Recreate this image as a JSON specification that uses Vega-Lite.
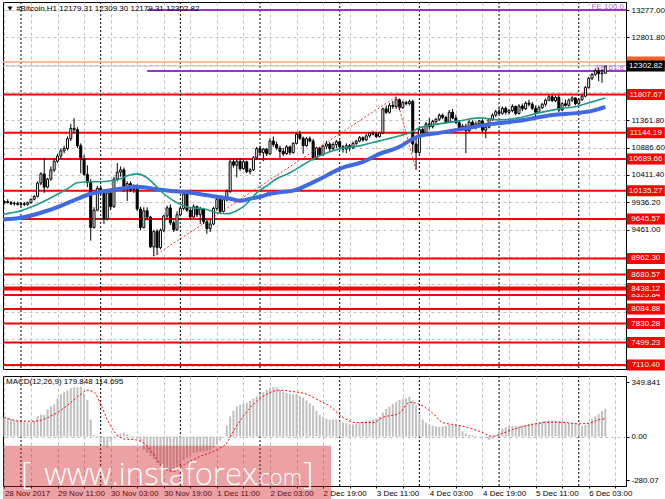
{
"$schema": "https://vega.github.io/schema/vega-lite/v6.json",
"padding": {"left": 2, "top": 1, "right": 0, "bottom": 0},
"spacing": 3,
"background": "white",
"datasets": {
"candles": [
{"t":"2017-11-28T19:00","o":9930,"h":9970,"l":9900,"c":9950,"m":123},
{"t":"2017-11-28T20:00","o":9950,"h":9990,"l":9920,"c":9930,"m":120},
{"t":"2017-11-28T21:00","o":9930,"h":9960,"l":9890,"c":9910,"m":112},
{"t":"2017-11-28T22:00","o":9910,"h":9950,"l":9880,"c":9920,"m":104},
{"t":"2017-11-28T23:00","o":9920,"h":9950,"l":9880,"c":9900,"m":101},
{"t":"2017-11-29T00:00","o":9900,"h":9940,"l":9860,"c":9910,"m":99},
{"t":"2017-11-29T01:00","o":9910,"h":9940,"l":9870,"c":9900,"m":95},
{"t":"2017-11-29T02:00","o":9900,"h":9950,"l":9880,"c":9930,"m":91},
{"t":"2017-11-29T03:00","o":9930,"h":10000,"l":9910,"c":9990,"m":94},
{"t":"2017-11-29T04:00","o":9990,"h":10060,"l":9970,"c":10040,"m":100},
{"t":"2017-11-29T05:00","o":10040,"h":10300,"l":10020,"c":10270,"m":130},
{"t":"2017-11-29T06:00","o":10270,"h":10460,"l":10230,"c":10430,"m":142},
{"t":"2017-11-29T07:00","o":10430,"h":10710,"l":10100,"c":10200,"m":140},
{"t":"2017-11-29T08:00","o":10200,"h":10360,"l":10180,"c":10340,"m":175},
{"t":"2017-11-29T09:00","o":10340,"h":10560,"l":10310,"c":10500,"m":195},
{"t":"2017-11-29T10:00","o":10500,"h":10700,"l":10460,"c":10650,"m":207},
{"t":"2017-11-29T11:00","o":10650,"h":10780,"l":10620,"c":10740,"m":245},
{"t":"2017-11-29T12:00","o":10740,"h":10870,"l":10700,"c":10830,"m":270},
{"t":"2017-11-29T13:00","o":10830,"h":10920,"l":10790,"c":10870,"m":285},
{"t":"2017-11-29T14:00","o":10870,"h":11080,"l":10840,"c":11040,"m":295},
{"t":"2017-11-29T15:00","o":11040,"h":11300,"l":11000,"c":11220,"m":310},
{"t":"2017-11-29T16:00","o":11220,"h":11400,"l":11150,"c":11200,"m":317},
{"t":"2017-11-29T17:00","o":11200,"h":11240,"l":10880,"c":10920,"m":317},
{"t":"2017-11-29T18:00","o":10920,"h":10960,"l":10440,"c":10700,"m":320},
{"t":"2017-11-29T19:00","o":10700,"h":10760,"l":10400,"c":10420,"m":275},
{"t":"2017-11-29T20:00","o":10420,"h":10580,"l":10200,"c":10280,"m":235},
{"t":"2017-11-29T21:00","o":10280,"h":10340,"l":9270,"c":9500,"m":110},
{"t":"2017-11-29T22:00","o":9500,"h":9850,"l":9480,"c":9800,"m":10},
{"t":"2017-11-29T23:00","o":9800,"h":10220,"l":9780,"c":10180,"m":-5},
{"t":"2017-11-30T00:00","o":10180,"h":10230,"l":10060,"c":10090,"m":-45},
{"t":"2017-11-30T01:00","o":10090,"h":10120,"l":9560,"c":9650,"m":-60},
{"t":"2017-11-30T02:00","o":9650,"h":10150,"l":9620,"c":10100,"m":-70},
{"t":"2017-11-30T03:00","o":10100,"h":10110,"l":9800,"c":9860,"m":-35},
{"t":"2017-11-30T04:00","o":9860,"h":10380,"l":9840,"c":10340,"m":-5},
{"t":"2017-11-30T05:00","o":10340,"h":10620,"l":10300,"c":10460,"m":12},
{"t":"2017-11-30T06:00","o":10460,"h":10560,"l":10380,"c":10500,"m":20},
{"t":"2017-11-30T07:00","o":10500,"h":10540,"l":10120,"c":10160,"m":26},
{"t":"2017-11-30T08:00","o":10160,"h":10300,"l":9960,"c":10260,"m":15},
{"t":"2017-11-30T09:00","o":10260,"h":10300,"l":10120,"c":10160,"m":5},
{"t":"2017-11-30T10:00","o":10160,"h":10250,"l":10100,"c":10220,"m":-3},
{"t":"2017-11-30T11:00","o":10220,"h":10250,"l":9780,"c":9820,"m":-12},
{"t":"2017-11-30T12:00","o":9820,"h":9860,"l":9450,"c":9500,"m":-30},
{"t":"2017-11-30T13:00","o":9500,"h":9850,"l":9480,"c":9790,"m":-85},
{"t":"2017-11-30T14:00","o":9790,"h":9850,"l":9620,"c":9680,"m":-105},
{"t":"2017-11-30T15:00","o":9680,"h":9700,"l":9140,"c":9160,"m":-125},
{"t":"2017-11-30T16:00","o":9160,"h":9460,"l":9000,"c":9430,"m":-145},
{"t":"2017-11-30T17:00","o":9430,"h":9470,"l":9020,"c":9150,"m":-170},
{"t":"2017-11-30T18:00","o":9150,"h":9480,"l":9120,"c":9450,"m":-185},
{"t":"2017-11-30T19:00","o":9450,"h":9720,"l":9420,"c":9700,"m":-200},
{"t":"2017-11-30T20:00","o":9700,"h":9880,"l":9650,"c":9840,"m":-215},
{"t":"2017-11-30T21:00","o":9840,"h":9900,"l":9540,"c":9580,"m":-222},
{"t":"2017-11-30T22:00","o":9580,"h":9620,"l":9420,"c":9460,"m":-215},
{"t":"2017-11-30T23:00","o":9460,"h":9780,"l":9440,"c":9720,"m":-195},
{"t":"2017-12-01T00:00","o":9720,"h":9860,"l":9690,"c":9830,"m":-175},
{"t":"2017-12-01T01:00","o":9830,"h":10140,"l":9800,"c":10080,"m":-150},
{"t":"2017-12-01T02:00","o":10080,"h":10100,"l":9770,"c":9800,"m":-135},
{"t":"2017-12-01T03:00","o":9800,"h":9850,"l":9640,"c":9680,"m":-120},
{"t":"2017-12-01T04:00","o":9680,"h":9900,"l":9660,"c":9860,"m":-105},
{"t":"2017-12-01T05:00","o":9860,"h":9880,"l":9680,"c":9720,"m":-100},
{"t":"2017-12-01T06:00","o":9720,"h":9860,"l":9560,"c":9820,"m":-97},
{"t":"2017-12-01T07:00","o":9820,"h":9840,"l":9560,"c":9600,"m":-95},
{"t":"2017-12-01T08:00","o":9600,"h":9640,"l":9390,"c":9480,"m":-92},
{"t":"2017-12-01T09:00","o":9480,"h":9640,"l":9420,"c":9560,"m":-88},
{"t":"2017-12-01T10:00","o":9560,"h":9860,"l":9540,"c":9830,"m":-70},
{"t":"2017-12-01T11:00","o":9830,"h":10020,"l":9790,"c":9990,"m":-50},
{"t":"2017-12-01T12:00","o":9990,"h":10030,"l":9750,"c":9780,"m":-25},
{"t":"2017-12-01T13:00","o":9780,"h":10010,"l":9760,"c":9980,"m":0},
{"t":"2017-12-01T14:00","o":9980,"h":10160,"l":9950,"c":10130,"m":70},
{"t":"2017-12-01T15:00","o":10130,"h":10680,"l":10100,"c":10640,"m":130},
{"t":"2017-12-01T16:00","o":10640,"h":10700,"l":10540,"c":10580,"m":165},
{"t":"2017-12-01T17:00","o":10580,"h":10700,"l":10370,"c":10650,"m":195},
{"t":"2017-12-01T18:00","o":10650,"h":10700,"l":10480,"c":10520,"m":205},
{"t":"2017-12-01T19:00","o":10520,"h":10680,"l":10500,"c":10640,"m":210},
{"t":"2017-12-01T20:00","o":10640,"h":10660,"l":10440,"c":10470,"m":218},
{"t":"2017-12-01T21:00","o":10470,"h":10530,"l":10420,"c":10500,"m":230},
{"t":"2017-12-01T22:00","o":10500,"h":10740,"l":10480,"c":10710,"m":245},
{"t":"2017-12-01T23:00","o":10710,"h":10900,"l":10680,"c":10870,"m":258},
{"t":"2017-12-02T00:00","o":10870,"h":10920,"l":10760,"c":10800,"m":270},
{"t":"2017-12-02T01:00","o":10800,"h":10880,"l":10650,"c":10860,"m":285},
{"t":"2017-12-02T02:00","o":10860,"h":10880,"l":10740,"c":10780,"m":300},
{"t":"2017-12-02T03:00","o":10780,"h":11050,"l":10760,"c":11000,"m":312},
{"t":"2017-12-02T04:00","o":11000,"h":11080,"l":10900,"c":10940,"m":317},
{"t":"2017-12-02T05:00","o":10940,"h":10990,"l":10850,"c":10880,"m":315},
{"t":"2017-12-02T06:00","o":10880,"h":10920,"l":10700,"c":10820,"m":300},
{"t":"2017-12-02T07:00","o":10820,"h":10880,"l":10740,"c":10780,"m":288},
{"t":"2017-12-02T08:00","o":10780,"h":10930,"l":10760,"c":10900,"m":280},
{"t":"2017-12-02T09:00","o":10900,"h":10920,"l":10760,"c":10800,"m":275},
{"t":"2017-12-02T10:00","o":10800,"h":10980,"l":10780,"c":10960,"m":272},
{"t":"2017-12-02T11:00","o":10960,"h":11150,"l":10940,"c":11120,"m":272},
{"t":"2017-12-02T12:00","o":11120,"h":11180,"l":11020,"c":11050,"m":260},
{"t":"2017-12-02T13:00","o":11050,"h":11080,"l":10780,"c":10920,"m":250},
{"t":"2017-12-02T14:00","o":10920,"h":11070,"l":10900,"c":11040,"m":232},
{"t":"2017-12-02T15:00","o":11040,"h":11080,"l":10980,"c":11000,"m":215},
{"t":"2017-12-02T16:00","o":11000,"h":11040,"l":10660,"c":10710,"m":198},
{"t":"2017-12-02T17:00","o":10710,"h":10900,"l":10680,"c":10880,"m":165},
{"t":"2017-12-02T18:00","o":10880,"h":10900,"l":10740,"c":10760,"m":140},
{"t":"2017-12-02T19:00","o":10760,"h":10940,"l":10740,"c":10910,"m":128},
{"t":"2017-12-02T20:00","o":10910,"h":11000,"l":10860,"c":10950,"m":115},
{"t":"2017-12-02T21:00","o":10950,"h":10980,"l":10820,"c":10870,"m":108},
{"t":"2017-12-02T22:00","o":10870,"h":10980,"l":10840,"c":10940,"m":110},
{"t":"2017-12-02T23:00","o":10940,"h":11020,"l":10880,"c":10990,"m":110},
{"t":"2017-12-03T00:00","o":10990,"h":11010,"l":10860,"c":10900,"m":99},
{"t":"2017-12-03T01:00","o":10900,"h":10930,"l":10800,"c":10860,"m":92},
{"t":"2017-12-03T02:00","o":10860,"h":10960,"l":10790,"c":10920,"m":85},
{"t":"2017-12-03T03:00","o":10920,"h":10950,"l":10820,"c":10880,"m":78},
{"t":"2017-12-03T04:00","o":10880,"h":10990,"l":10860,"c":10960,"m":78},
{"t":"2017-12-03T05:00","o":10960,"h":11020,"l":10930,"c":11000,"m":85},
{"t":"2017-12-03T06:00","o":11000,"h":11090,"l":10980,"c":11060,"m":90},
{"t":"2017-12-03T07:00","o":11060,"h":11080,"l":10990,"c":11020,"m":97},
{"t":"2017-12-03T08:00","o":11020,"h":11120,"l":11000,"c":11090,"m":103},
{"t":"2017-12-03T09:00","o":11090,"h":11160,"l":11060,"c":11140,"m":106},
{"t":"2017-12-03T10:00","o":11140,"h":11180,"l":11100,"c":11120,"m":110},
{"t":"2017-12-03T11:00","o":11120,"h":11160,"l":11050,"c":11080,"m":115},
{"t":"2017-12-03T12:00","o":11080,"h":11160,"l":11060,"c":11140,"m":128},
{"t":"2017-12-03T13:00","o":11140,"h":11580,"l":11120,"c":11560,"m":155},
{"t":"2017-12-03T14:00","o":11560,"h":11620,"l":11470,"c":11500,"m":178},
{"t":"2017-12-03T15:00","o":11500,"h":11660,"l":11480,"c":11620,"m":192},
{"t":"2017-12-03T16:00","o":11620,"h":11700,"l":11560,"c":11600,"m":210},
{"t":"2017-12-03T17:00","o":11600,"h":11770,"l":11560,"c":11720,"m":222},
{"t":"2017-12-03T18:00","o":11720,"h":11740,"l":11540,"c":11580,"m":236},
{"t":"2017-12-03T19:00","o":11580,"h":11700,"l":11560,"c":11670,"m":244},
{"t":"2017-12-03T20:00","o":11670,"h":11700,"l":11620,"c":11650,"m":247},
{"t":"2017-12-03T21:00","o":11650,"h":11720,"l":11620,"c":11690,"m":255},
{"t":"2017-12-03T22:00","o":11690,"h":11720,"l":10800,"c":10950,"m":232},
{"t":"2017-12-03T23:00","o":10950,"h":11060,"l":10500,"c":10800,"m":200},
{"t":"2017-12-04T00:00","o":10800,"h":11240,"l":10780,"c":11200,"m":142},
{"t":"2017-12-04T01:00","o":11200,"h":11260,"l":11100,"c":11140,"m":110},
{"t":"2017-12-04T02:00","o":11140,"h":11330,"l":11120,"c":11300,"m":90},
{"t":"2017-12-04T03:00","o":11300,"h":11400,"l":11200,"c":11250,"m":78},
{"t":"2017-12-04T04:00","o":11250,"h":11370,"l":11220,"c":11340,"m":70},
{"t":"2017-12-04T05:00","o":11340,"h":11400,"l":11290,"c":11380,"m":65},
{"t":"2017-12-04T06:00","o":11380,"h":11480,"l":11350,"c":11450,"m":62},
{"t":"2017-12-04T07:00","o":11450,"h":11480,"l":11380,"c":11410,"m":65},
{"t":"2017-12-04T08:00","o":11410,"h":11440,"l":11300,"c":11330,"m":70},
{"t":"2017-12-04T09:00","o":11330,"h":11540,"l":11310,"c":11500,"m":78},
{"t":"2017-12-04T10:00","o":11500,"h":11560,"l":11380,"c":11400,"m":78},
{"t":"2017-12-04T11:00","o":11400,"h":11460,"l":11300,"c":11320,"m":75},
{"t":"2017-12-04T12:00","o":11320,"h":11360,"l":11200,"c":11230,"m":67},
{"t":"2017-12-04T13:00","o":11230,"h":11300,"l":11180,"c":11260,"m":35},
{"t":"2017-12-04T14:00","o":11260,"h":11300,"l":10790,"c":11180,"m":22},
{"t":"2017-12-04T15:00","o":11180,"h":11360,"l":11160,"c":11330,"m":13},
{"t":"2017-12-04T16:00","o":11330,"h":11360,"l":11220,"c":11250,"m":10},
{"t":"2017-12-04T17:00","o":11250,"h":11340,"l":11200,"c":11300,"m":5},
{"t":"2017-12-04T18:00","o":11300,"h":11370,"l":11250,"c":11350,"m":2},
{"t":"2017-12-04T19:00","o":11350,"h":11380,"l":11150,"c":11190,"m":-4},
{"t":"2017-12-04T20:00","o":11190,"h":11280,"l":11050,"c":11240,"m":-10},
{"t":"2017-12-04T21:00","o":11240,"h":11400,"l":11220,"c":11380,"m":-19},
{"t":"2017-12-04T22:00","o":11380,"h":11480,"l":11350,"c":11450,"m":-12},
{"t":"2017-12-04T23:00","o":11450,"h":11540,"l":11420,"c":11510,"m":10},
{"t":"2017-12-05T00:00","o":11510,"h":11580,"l":11460,"c":11480,"m":35},
{"t":"2017-12-05T01:00","o":11480,"h":11600,"l":11460,"c":11570,"m":50},
{"t":"2017-12-05T02:00","o":11570,"h":11600,"l":11460,"c":11500,"m":60},
{"t":"2017-12-05T03:00","o":11500,"h":11560,"l":11460,"c":11530,"m":67},
{"t":"2017-12-05T04:00","o":11530,"h":11640,"l":11500,"c":11600,"m":67},
{"t":"2017-12-05T05:00","o":11600,"h":11620,"l":11450,"c":11480,"m":67},
{"t":"2017-12-05T06:00","o":11480,"h":11640,"l":11460,"c":11610,"m":67},
{"t":"2017-12-05T07:00","o":11610,"h":11650,"l":11520,"c":11560,"m":71},
{"t":"2017-12-05T08:00","o":11560,"h":11690,"l":11540,"c":11660,"m":76},
{"t":"2017-12-05T09:00","o":11660,"h":11720,"l":11600,"c":11640,"m":80},
{"t":"2017-12-05T10:00","o":11640,"h":11680,"l":11540,"c":11570,"m":84},
{"t":"2017-12-05T11:00","o":11570,"h":11620,"l":11380,"c":11500,"m":88},
{"t":"2017-12-05T12:00","o":11500,"h":11620,"l":11480,"c":11580,"m":92},
{"t":"2017-12-05T13:00","o":11580,"h":11660,"l":11560,"c":11640,"m":97},
{"t":"2017-12-05T14:00","o":11640,"h":11740,"l":11600,"c":11710,"m":100},
{"t":"2017-12-05T15:00","o":11710,"h":11800,"l":11690,"c":11770,"m":103},
{"t":"2017-12-05T16:00","o":11770,"h":11800,"l":11680,"c":11700,"m":103},
{"t":"2017-12-05T17:00","o":11700,"h":11790,"l":11680,"c":11760,"m":102},
{"t":"2017-12-05T18:00","o":11760,"h":11800,"l":11500,"c":11540,"m":99},
{"t":"2017-12-05T19:00","o":11540,"h":11680,"l":11520,"c":11650,"m":95},
{"t":"2017-12-05T20:00","o":11650,"h":11720,"l":11600,"c":11620,"m":92},
{"t":"2017-12-05T21:00","o":11620,"h":11740,"l":11600,"c":11710,"m":86},
{"t":"2017-12-05T22:00","o":11710,"h":11780,"l":11680,"c":11750,"m":82},
{"t":"2017-12-05T23:00","o":11750,"h":11760,"l":11620,"c":11650,"m":79},
{"t":"2017-12-06T00:00","o":11650,"h":11740,"l":11620,"c":11720,"m":78},
{"t":"2017-12-06T01:00","o":11720,"h":11800,"l":11700,"c":11780,"m":70},
{"t":"2017-12-06T02:00","o":11780,"h":11960,"l":11760,"c":11930,"m":75},
{"t":"2017-12-06T03:00","o":11930,"h":12110,"l":11910,"c":12090,"m":86},
{"t":"2017-12-06T04:00","o":12090,"h":12180,"l":12060,"c":12160,"m":110},
{"t":"2017-12-06T05:00","o":12160,"h":12260,"l":12130,"c":12220,"m":130},
{"t":"2017-12-06T06:00","o":12220,"h":12270,"l":12040,"c":12170,"m":145},
{"t":"2017-12-06T07:00","o":12170,"h":12250,"l":12010,"c":12179.31,"m":165},
{"t":"2017-12-06T08:00","o":12179.31,"h":12309.30,"l":12179.31,"c":12302.82,"m":179.848}
],
"teal": [
{"t":"2017-11-28T18:35","v":9730},{"t":"2017-11-29T00:00","v":9790},{"t":"2017-11-29T04:00","v":9876},
{"t":"2017-11-29T09:00","v":10015},{"t":"2017-11-29T14:00","v":10171},{"t":"2017-11-29T17:00","v":10275},
{"t":"2017-11-29T21:00","v":10293},{"t":"2017-11-30T00:00","v":10293},{"t":"2017-11-30T03:00","v":10310},
{"t":"2017-11-30T06:00","v":10345},{"t":"2017-11-30T08:00","v":10397},{"t":"2017-11-30T11:00","v":10431},
{"t":"2017-11-30T14:00","v":10362},{"t":"2017-11-30T16:00","v":10258},{"t":"2017-11-30T19:00","v":10085},
{"t":"2017-11-30T23:00","v":9928},{"t":"2017-12-01T03:00","v":9842},{"t":"2017-12-01T07:00","v":9824},
{"t":"2017-12-01T11:00","v":9755},{"t":"2017-12-01T14:00","v":9737},{"t":"2017-12-01T17:00","v":9790},
{"t":"2017-12-01T20:00","v":9911},{"t":"2017-12-01T23:00","v":10102},{"t":"2017-12-02T02:00","v":10223},
{"t":"2017-12-02T05:00","v":10345},{"t":"2017-12-02T09:00","v":10449},{"t":"2017-12-02T12:00","v":10553},
{"t":"2017-12-02T15:00","v":10657},{"t":"2017-12-02T18:00","v":10744},{"t":"2017-12-02T21:00","v":10813},
{"t":"2017-12-03T00:00","v":10865},{"t":"2017-12-03T06:00","v":10917},{"t":"2017-12-03T12:00","v":11004},
{"t":"2017-12-03T18:00","v":11091},{"t":"2017-12-03T21:00","v":11143},{"t":"2017-12-04T00:00","v":11230},
{"t":"2017-12-04T06:00","v":11299},{"t":"2017-12-04T12:00","v":11351},{"t":"2017-12-04T18:00","v":11403},
{"t":"2017-12-05T00:00","v":11368},{"t":"2017-12-05T06:00","v":11403},{"t":"2017-12-05T12:00","v":11490},
{"t":"2017-12-05T18:00","v":11559},{"t":"2017-12-06T00:00","v":11611},{"t":"2017-12-06T04:00","v":11681},
{"t":"2017-12-06T08:00","v":11750}
],
"blue": [
{"t":"2017-11-28T18:35","v":9640},{"t":"2017-11-29T00:00","v":9668},{"t":"2017-11-29T06:00","v":9755},
{"t":"2017-11-29T12:00","v":9876},{"t":"2017-11-29T17:00","v":9998},{"t":"2017-11-29T21:00","v":10085},
{"t":"2017-11-30T02:00","v":10137},{"t":"2017-11-30T06:00","v":10171},{"t":"2017-11-30T10:00","v":10206},
{"t":"2017-11-30T14:00","v":10189},{"t":"2017-11-30T18:00","v":10154},{"t":"2017-12-01T03:00","v":10102},
{"t":"2017-12-01T09:00","v":10050},{"t":"2017-12-01T15:00","v":9998},{"t":"2017-12-01T18:00","v":9963},
{"t":"2017-12-01T21:00","v":9998},{"t":"2017-12-02T00:00","v":10032},{"t":"2017-12-02T03:00","v":10085},
{"t":"2017-12-02T07:00","v":10119},{"t":"2017-12-02T10:00","v":10140},{"t":"2017-12-02T14:00","v":10230},
{"t":"2017-12-02T18:00","v":10340},{"t":"2017-12-02T21:00","v":10431},{"t":"2017-12-03T00:00","v":10518},
{"t":"2017-12-03T07:00","v":10640},{"t":"2017-12-03T12:00","v":10778},{"t":"2017-12-03T18:00","v":10900},
{"t":"2017-12-03T21:00","v":11004},{"t":"2017-12-04T00:00","v":11091},{"t":"2017-12-04T06:00","v":11143},
{"t":"2017-12-04T13:00","v":11212},{"t":"2017-12-04T22:00","v":11299},{"t":"2017-12-05T06:00","v":11351},
{"t":"2017-12-05T16:00","v":11455},{"t":"2017-12-06T00:00","v":11490},{"t":"2017-12-06T04:00","v":11525},
{"t":"2017-12-06T08:00","v":11594}
],
"signal": [
{"t":"2017-11-28T19:00","v":123},{"t":"2017-11-29T00:00","v":99},{"t":"2017-11-29T04:00","v":99},
{"t":"2017-11-29T09:00","v":131},{"t":"2017-11-29T14:00","v":201},{"t":"2017-11-29T18:00","v":272},
{"t":"2017-11-29T20:00","v":298},{"t":"2017-11-29T22:00","v":285},{"t":"2017-11-30T00:00","v":207},
{"t":"2017-11-30T02:00","v":110},{"t":"2017-11-30T04:00","v":35},{"t":"2017-11-30T07:00","v":-15},
{"t":"2017-11-30T10:00","v":-19},{"t":"2017-11-30T13:00","v":-41},{"t":"2017-11-30T16:00","v":-117},
{"t":"2017-11-30T19:00","v":-203},{"t":"2017-11-30T22:00","v":-224},{"t":"2017-12-01T01:00","v":-181},
{"t":"2017-12-01T06:00","v":-127},{"t":"2017-12-01T11:00","v":-84},{"t":"2017-12-01T14:00","v":-41},
{"t":"2017-12-01T16:00","v":35},{"t":"2017-12-01T19:00","v":131},{"t":"2017-12-01T22:00","v":207},
{"t":"2017-12-02T02:00","v":272},{"t":"2017-12-02T06:00","v":298},{"t":"2017-12-02T10:00","v":289},
{"t":"2017-12-02T14:00","v":272},{"t":"2017-12-02T18:00","v":229},{"t":"2017-12-02T21:00","v":196},
{"t":"2017-12-03T01:00","v":123},{"t":"2017-12-03T05:00","v":90},{"t":"2017-12-03T10:00","v":90},
{"t":"2017-12-03T13:00","v":123},{"t":"2017-12-03T18:00","v":151},{"t":"2017-12-03T21:00","v":220},
{"t":"2017-12-04T00:00","v":207},{"t":"2017-12-04T04:00","v":151},{"t":"2017-12-04T07:00","v":90},
{"t":"2017-12-04T10:00","v":78},{"t":"2017-12-04T13:00","v":67},{"t":"2017-12-04T18:00","v":35},
{"t":"2017-12-04T22:00","v":2},{"t":"2017-12-05T00:00","v":13},{"t":"2017-12-05T04:00","v":45},
{"t":"2017-12-05T10:00","v":78},{"t":"2017-12-05T16:00","v":93},{"t":"2017-12-05T20:00","v":90},
{"t":"2017-12-06T00:00","v":82},{"t":"2017-12-06T03:00","v":86},{"t":"2017-12-06T06:00","v":108},
{"t":"2017-12-06T08:00","v":114.695}
],
"days": [
{"t":"2017-11-29T00:00"},{"t":"2017-11-30T00:00"},{"t":"2017-12-01T00:00"},{"t":"2017-12-02T00:00"},
{"t":"2017-12-03T00:00"},{"t":"2017-12-04T00:00"},{"t":"2017-12-05T00:00"},{"t":"2017-12-06T00:00"}
],
"levels": [
{"p":11807.67},{"p":11144.19},{"p":10689.66},{"p":10135.27},{"p":9645.57},{"p":8962.30},{"p":8680.57},
{"p":8325.84},{"p":8438.12},{"p":8084.88},{"p":7830.28},{"p":7499.23},{"p":7110.40}
],
"fe": [
{"p":13277.0,"lab":"FE 100.0"},{"p":12217.0,"lab":"FE 61.8"}
],
"zigzag": [
{"t":"2017-11-30T16:00","v":9000},{"t":"2017-12-03T17:00","v":11770},{"t":"2017-12-03T23:00","v":10500}
],
"quote": [
{"p":12372.82,"kind":"ask"},{"p":12302.82,"kind":"bid"}
]
},
"vconcat": [
{
"width": 623,
"height": 367,
"title": {"text": "▼  #Bitcoin,H1  12179.31 12309.30 12179.31 12302.82", "offset": -11, "dx": 3},
"layer": [
{"data": {"name": "levels"},
 "mark": {"type": "rule", "color": "#ff0000", "clip": true},
 "encoding": {
   "y": {"field": "p", "type": "quantitative", "title": null,
     "scale": {"domain": [7041, 13416], "nice": false, "zero": false},
     "axis": {"orient": "right", "values": [13277, 12801.8, 12326.6, 11851.4, 11361.8, 10886.6, 10411.4, 9936.2, 9461, 8985.8, 8510.6, 8035.4, 7560.2, 7085],
       "tickCount": 40,
       "labelExpr": "indexof([12326.6, 11851.4, 8985.8, 8510.6, 7560.2], datum.value) >= 0 ? '' : format(datum.value, '.2f')",
       "labelOverlap": false, "labelFlush": false, "labelBound": false, "tickSize": 3, "labelPadding": 2,
       "grid": true, "gridColor": "#c0c0c0", "gridDash": [3, 3], "domain": true, "title": null}},
   "strokeWidth": {"condition": {"test": "datum.p == 8438.12", "value": 4}, "value": 2}}},
{"data": {"name": "days"},
 "mark": {"type": "rule", "color": "#000000", "strokeDash": [2, 2], "strokeWidth": 1, "clip": true},
 "encoding": {"x": {"field": "t", "type": "temporal", "title": null,
   "scale": {"domain": [{"year":2017,"month":11,"date":28,"hours":18,"minutes":35},{"year":2017,"month":12,"date":6,"hours":14,"minutes":14}], "nice": false, "padding": 0},
   "axis": {"values": [
     {"year":2017,"month":11,"date":28,"hours":19},{"year":2017,"month":11,"date":29,"hours":3},{"year":2017,"month":11,"date":29,"hours":11},{"year":2017,"month":11,"date":29,"hours":19},
     {"year":2017,"month":11,"date":30,"hours":3},{"year":2017,"month":11,"date":30,"hours":11},{"year":2017,"month":11,"date":30,"hours":19},
     {"year":2017,"month":12,"date":1,"hours":3},{"year":2017,"month":12,"date":1,"hours":11},{"year":2017,"month":12,"date":1,"hours":19},
     {"year":2017,"month":12,"date":2,"hours":3},{"year":2017,"month":12,"date":2,"hours":11},{"year":2017,"month":12,"date":2,"hours":19},
     {"year":2017,"month":12,"date":3,"hours":3},{"year":2017,"month":12,"date":3,"hours":11},{"year":2017,"month":12,"date":3,"hours":19},
     {"year":2017,"month":12,"date":4,"hours":3},{"year":2017,"month":12,"date":4,"hours":11},{"year":2017,"month":12,"date":4,"hours":19},
     {"year":2017,"month":12,"date":5,"hours":3},{"year":2017,"month":12,"date":5,"hours":11},{"year":2017,"month":12,"date":5,"hours":19},
     {"year":2017,"month":12,"date":6,"hours":3},{"year":2017,"month":12,"date":6,"hours":11}],
     "tickCount": 60, "labels": false, "ticks": false, "domain": false, "grid": true, "gridColor": "#c0c0c0", "gridDash": [3, 3], "title": null}}}},
{"data": {"name": "quote"},
 "mark": {"type": "rule", "clip": true},
 "encoding": {
   "y": {"field": "p", "type": "quantitative", "title": null, "scale": {"domain": [7041, 13416], "nice": false, "zero": false}},
   "color": {"condition": {"test": "datum.kind == 'ask'", "value": "#ffa07a"}, "value": "#c0c0c0"},
   "strokeWidth": {"condition": {"test": "datum.kind == 'ask'", "value": 1.5}, "value": 1}}},
{"data": {"name": "fe"},
 "mark": {"type": "rule", "color": "#9932cc", "strokeWidth": 2, "clip": true},
 "encoding": {
   "x": {"datum": {"year":2017,"month":11,"date":30,"hours":14}, "type": "temporal", "scale": {"domain": [{"year":2017,"month":11,"date":28,"hours":18,"minutes":35},{"year":2017,"month":12,"date":6,"hours":14,"minutes":14}], "nice": false, "padding": 0}},
   "x2": {"datum": {"year":2017,"month":12,"date":6,"hours":14,"minutes":14}},
   "y": {"field": "p", "type": "quantitative", "title": null, "scale": {"domain": [7041, 13416], "nice": false, "zero": false}}}},
{"data": {"name": "candles"},
 "mark": {"type": "rule", "color": "#000000", "strokeWidth": 1},
 "encoding": {
   "x": {"field": "t", "type": "temporal", "title": null, "scale": {"domain": [{"year":2017,"month":11,"date":28,"hours":18,"minutes":35},{"year":2017,"month":12,"date":6,"hours":14,"minutes":14}], "nice": false, "padding": 0}},
   "y": {"field": "l", "type": "quantitative", "title": null, "scale": {"domain": [7041, 13416], "nice": false, "zero": false}},
   "y2": {"field": "h"}}},
{"data": {"name": "candles"},
 "mark": {"type": "bar", "size": 2, "stroke": "#000000", "strokeWidth": 1, "clip": true},
 "encoding": {
   "x": {"field": "t", "type": "temporal", "title": null, "scale": {"domain": [{"year":2017,"month":11,"date":28,"hours":18,"minutes":35},{"year":2017,"month":12,"date":6,"hours":14,"minutes":14}], "nice": false, "padding": 0}},
   "y": {"field": "o", "type": "quantitative", "title": null, "scale": {"domain": [7041, 13416], "nice": false, "zero": false}},
   "y2": {"field": "c"},
   "fill": {"condition": {"test": "datum.c >= datum.o", "value": "#ffffff"}, "value": "#000000"}}},
{"data": {"name": "blue"},
 "mark": {"type": "line", "color": "#4169e1", "strokeWidth": 4, "interpolate": "monotone", "clip": true},
 "encoding": {
   "x": {"field": "t", "type": "temporal", "title": null, "scale": {"domain": [{"year":2017,"month":11,"date":28,"hours":18,"minutes":35},{"year":2017,"month":12,"date":6,"hours":14,"minutes":14}], "nice": false, "padding": 0}},
   "y": {"field": "v", "type": "quantitative", "title": null, "scale": {"domain": [7041, 13416], "nice": false, "zero": false}}}},
{"data": {"name": "teal"},
 "mark": {"type": "line", "color": "#1f9a8a", "strokeWidth": 1.6, "interpolate": "monotone", "clip": true},
 "encoding": {
   "x": {"field": "t", "type": "temporal", "title": null, "scale": {"domain": [{"year":2017,"month":11,"date":28,"hours":18,"minutes":35},{"year":2017,"month":12,"date":6,"hours":14,"minutes":14}], "nice": false, "padding": 0}},
   "y": {"field": "v", "type": "quantitative", "title": null, "scale": {"domain": [7041, 13416], "nice": false, "zero": false}}}},
{"data": {"name": "zigzag"},
 "mark": {"type": "line", "color": "#ff3030", "strokeWidth": 1, "strokeDash": [2, 2]},
 "encoding": {
   "x": {"field": "t", "type": "temporal", "title": null, "scale": {"domain": [{"year":2017,"month":11,"date":28,"hours":18,"minutes":35},{"year":2017,"month":12,"date":6,"hours":14,"minutes":14}], "nice": false, "padding": 0}},
   "y": {"field": "v", "type": "quantitative", "title": null, "scale": {"domain": [7041, 13416], "nice": false, "zero": false}}}},
{"data": {"name": "fe"},
 "mark": {"type": "text", "align": "right", "baseline": "bottom", "dx": -2, "dy": 1, "fontSize": 8, "color": "#b46edf"},
 "encoding": {
   "x": {"datum": {"year":2017,"month":12,"date":6,"hours":14,"minutes":14}, "type": "temporal", "scale": {"domain": [{"year":2017,"month":11,"date":28,"hours":18,"minutes":35},{"year":2017,"month":12,"date":6,"hours":14,"minutes":14}], "nice": false, "padding": 0}},
   "y": {"field": "p", "type": "quantitative", "title": null, "scale": {"domain": [7041, 13416], "nice": false, "zero": false}},
   "text": {"field": "lab"}}},
{"data": {"name": "levels"},
 "transform": [{"filter": "datum.p != 8438.12"}],
 "mark": {"type": "tick", "orient": "horizontal", "size": 38, "thickness": 11, "color": "#ff0000", "opacity": 1, "clip": false},
 "encoding": {
   "x": {"datum": {"year":2017,"month":12,"date":6,"hours":20,"minutes":12}, "type": "temporal", "scale": {"domain": [{"year":2017,"month":11,"date":28,"hours":18,"minutes":35},{"year":2017,"month":12,"date":6,"hours":14,"minutes":14}], "nice": false, "padding": 0}},
   "y": {"field": "p", "type": "quantitative", "title": null, "scale": {"domain": [7041, 13416], "nice": false, "zero": false}}}},
{"data": {"name": "levels"},
 "transform": [{"filter": "datum.p != 8438.12"}],
 "mark": {"type": "text", "color": "#ffffff", "fontSize": 8, "baseline": "middle", "align": "center", "clip": false},
 "encoding": {
   "x": {"datum": {"year":2017,"month":12,"date":6,"hours":20,"minutes":12}, "type": "temporal", "scale": {"domain": [{"year":2017,"month":11,"date":28,"hours":18,"minutes":35},{"year":2017,"month":12,"date":6,"hours":14,"minutes":14}], "nice": false, "padding": 0}},
   "y": {"field": "p", "type": "quantitative", "title": null, "scale": {"domain": [7041, 13416], "nice": false, "zero": false}},
   "text": {"field": "p", "type": "quantitative", "format": ".2f"}}},
{"data": {"name": "levels"},
 "transform": [{"filter": "datum.p == 8438.12"}],
 "mark": {"type": "tick", "orient": "horizontal", "size": 38, "thickness": 11, "color": "#ff0000", "opacity": 1, "clip": false},
 "encoding": {
   "x": {"datum": {"year":2017,"month":12,"date":6,"hours":20,"minutes":12}, "type": "temporal", "scale": {"domain": [{"year":2017,"month":11,"date":28,"hours":18,"minutes":35},{"year":2017,"month":12,"date":6,"hours":14,"minutes":14}], "nice": false, "padding": 0}},
   "y": {"field": "p", "type": "quantitative", "title": null, "scale": {"domain": [7041, 13416], "nice": false, "zero": false}}}},
{"data": {"name": "levels"},
 "transform": [{"filter": "datum.p == 8438.12"}],
 "mark": {"type": "text", "color": "#ffffff", "fontSize": 8, "baseline": "middle", "align": "center", "clip": false},
 "encoding": {
   "x": {"datum": {"year":2017,"month":12,"date":6,"hours":20,"minutes":12}, "type": "temporal", "scale": {"domain": [{"year":2017,"month":11,"date":28,"hours":18,"minutes":35},{"year":2017,"month":12,"date":6,"hours":14,"minutes":14}], "nice": false, "padding": 0}},
   "y": {"field": "p", "type": "quantitative", "title": null, "scale": {"domain": [7041, 13416], "nice": false, "zero": false}},
   "text": {"field": "p", "type": "quantitative", "format": ".2f"}}},
{"data": {"name": "quote"},
 "mark": {"type": "tick", "orient": "horizontal", "size": 38, "thickness": 11, "opacity": 1, "clip": false},
 "encoding": {
   "x": {"datum": {"year":2017,"month":12,"date":6,"hours":20,"minutes":12}, "type": "temporal", "scale": {"domain": [{"year":2017,"month":11,"date":28,"hours":18,"minutes":35},{"year":2017,"month":12,"date":6,"hours":14,"minutes":14}], "nice": false, "padding": 0}},
   "y": {"field": "p", "type": "quantitative", "title": null, "scale": {"domain": [7041, 13416], "nice": false, "zero": false}},
   "color": {"condition": {"test": "datum.kind == 'ask'", "value": "#f5622d"}, "value": "#000000"}}},
{"data": {"name": "quote"},
 "transform": [{"filter": "datum.kind == 'bid'"}],
 "mark": {"type": "text", "color": "#ffffff", "fontSize": 8, "baseline": "middle", "align": "center", "clip": false},
 "encoding": {
   "x": {"datum": {"year":2017,"month":12,"date":6,"hours":20,"minutes":12}, "type": "temporal", "scale": {"domain": [{"year":2017,"month":11,"date":28,"hours":18,"minutes":35},{"year":2017,"month":12,"date":6,"hours":14,"minutes":14}], "nice": false, "padding": 0}},
   "y": {"field": "p", "type": "quantitative", "title": null, "scale": {"domain": [7041, 13416], "nice": false, "zero": false}},
   "text": {"field": "p", "type": "quantitative", "format": ".2f"}}}
]
},
{
"width": 623,
"height": 110,
"title": {"text": "MACD(12,26,9) 179.848 114.695", "offset": -10, "dx": 3},
"layer": [
{"data": {"name": "days"},
 "mark": {"type": "rule", "color": "#000000", "strokeDash": [2, 2], "strokeWidth": 1, "clip": true},
 "encoding": {"x": {"field": "t", "type": "temporal", "title": null,
   "scale": {"domain": [{"year":2017,"month":11,"date":28,"hours":18,"minutes":35},{"year":2017,"month":12,"date":6,"hours":14,"minutes":14}], "nice": false, "padding": 0},
   "axis": {"values": [
     {"year":2017,"month":11,"date":28,"hours":19},{"year":2017,"month":11,"date":29,"hours":3},{"year":2017,"month":11,"date":29,"hours":11},{"year":2017,"month":11,"date":29,"hours":19},
     {"year":2017,"month":11,"date":30,"hours":3},{"year":2017,"month":11,"date":30,"hours":11},{"year":2017,"month":11,"date":30,"hours":19},
     {"year":2017,"month":12,"date":1,"hours":3},{"year":2017,"month":12,"date":1,"hours":11},{"year":2017,"month":12,"date":1,"hours":19},
     {"year":2017,"month":12,"date":2,"hours":3},{"year":2017,"month":12,"date":2,"hours":11},{"year":2017,"month":12,"date":2,"hours":19},
     {"year":2017,"month":12,"date":3,"hours":3},{"year":2017,"month":12,"date":3,"hours":11},{"year":2017,"month":12,"date":3,"hours":19},
     {"year":2017,"month":12,"date":4,"hours":3},{"year":2017,"month":12,"date":4,"hours":11},{"year":2017,"month":12,"date":4,"hours":19},
     {"year":2017,"month":12,"date":5,"hours":3},{"year":2017,"month":12,"date":5,"hours":11},{"year":2017,"month":12,"date":5,"hours":19},
     {"year":2017,"month":12,"date":6,"hours":3},{"year":2017,"month":12,"date":6,"hours":11}],
     "tickCount": 60,
     "labelExpr": "(round((datum.value - datetime(2017,10,28,19)) / 3600000) % 16 != 0) ? '' : (round((datum.value - datetime(2017,10,28,19)) / 3600000) == 0 ? '28 Nov 2017' : timeFormat(datum.value, '%-d %b %H:%M'))",
     "labelAlign": "left", "labelOverlap": false, "labelFlush": false, "labelBound": false, "labelPadding": 1, "tickSize": 2,
     "domain": true, "grid": true, "gridColor": "#c0c0c0", "gridDash": [3, 3], "title": null}}}},
{"data": {"name": "candles"},
 "mark": {"type": "bar", "size": 2, "color": "#c0c0c0", "clip": true},
 "encoding": {
   "x": {"field": "t", "type": "temporal", "title": null, "scale": {"domain": [{"year":2017,"month":11,"date":28,"hours":18,"minutes":35},{"year":2017,"month":12,"date":6,"hours":14,"minutes":14}], "nice": false, "padding": 0}},
   "y": {"field": "m", "type": "quantitative", "title": null,
     "scale": {"domain": [-317, 389], "nice": false, "zero": false},
     "axis": {"orient": "right", "values": [349.841, 0, -280.07], "tickCount": 10,
       "labelExpr": "datum.value > 1 ? '349.841' : (datum.value < -1 ? '-280.07' : '0.00')",
       "labelOverlap": false, "labelFlush": false, "labelBound": false, "tickSize": 3, "labelPadding": 2,
       "grid": true, "gridColor": {"condition": {"test": "datum.value == 0", "value": "#c0c0c0"}, "value": "rgba(0,0,0,0)"}, "gridDash": [3, 3], "title": null}},
   "y2": {"datum": 0}}},
{"data": {"name": "signal"},
 "mark": {"type": "line", "color": "#ff0000", "strokeWidth": 1, "strokeDash": [2, 2], "interpolate": "monotone", "clip": true},
 "encoding": {
   "x": {"field": "t", "type": "temporal", "title": null, "scale": {"domain": [{"year":2017,"month":11,"date":28,"hours":18,"minutes":35},{"year":2017,"month":12,"date":6,"hours":14,"minutes":14}], "nice": false, "padding": 0}},
   "y": {"field": "v", "type": "quantitative", "title": null, "scale": {"domain": [-317, 389], "nice": false, "zero": false}}}},
{"data": {"values": [{"name": "watermark"}]},
 "mark": {"type": "rect", "color": "#d21e28", "opacity": 0.42, "clip": false},
 "encoding": {
   "x": {"datum": {"year":2017,"month":11,"date":28,"hours":18,"minutes":35}, "type": "temporal", "scale": {"domain": [{"year":2017,"month":11,"date":28,"hours":18,"minutes":35},{"year":2017,"month":12,"date":6,"hours":14,"minutes":14}], "nice": false, "padding": 0}},
   "x2": {"datum": {"year":2017,"month":12,"date":2,"hours":21,"minutes":24}},
   "y": {"datum": -58, "type": "quantitative", "scale": {"domain": [-317, 389], "nice": false, "zero": false}},
   "y2": {"datum": -434}}},
{"data": {"values": [{"name": "watermark"}]},
 "mark": {"type": "text", "text": "www.instaforex", "font": "Open Sans", "fontWeight": 300, "fontSize": 31, "color": "#ffffff", "align": "left", "baseline": "alphabetic", "clip": false},
 "encoding": {
   "x": {"datum": {"year":2017,"month":11,"date":29,"hours":7,"minutes":0}, "type": "temporal", "scale": {"domain": [{"year":2017,"month":11,"date":28,"hours":18,"minutes":35},{"year":2017,"month":12,"date":6,"hours":14,"minutes":14}], "nice": false, "padding": 0}},
   "y": {"datum": -311, "type": "quantitative", "scale": {"domain": [-317, 389], "nice": false, "zero": false}}}},
{"data": {"values": [{"name": "watermark"}]},
 "mark": {"type": "text", "text": ".com", "font": "Open Sans", "fontWeight": 300, "fontSize": 22, "color": "#ffffff", "align": "left", "baseline": "alphabetic", "clip": false},
 "encoding": {
   "x": {"datum": {"year":2017,"month":12,"date":1,"hours":22,"minutes":12}, "type": "temporal", "scale": {"domain": [{"year":2017,"month":11,"date":28,"hours":18,"minutes":35},{"year":2017,"month":12,"date":6,"hours":14,"minutes":14}], "nice": false, "padding": 0}},
   "y": {"datum": -311, "type": "quantitative", "scale": {"domain": [-317, 389], "nice": false, "zero": false}}}},
{"data": {"values": [{"name": "watermark"}]},
 "mark": {"type": "text", "text": "[", "font": "Open Sans", "fontWeight": 300, "fontSize": 32, "color": "#ffffff", "align": "left", "baseline": "alphabetic", "clip": false},
 "encoding": {
   "x": {"datum": {"year":2017,"month":11,"date":29,"hours":0}, "type": "temporal", "scale": {"domain": [{"year":2017,"month":11,"date":28,"hours":18,"minutes":35},{"year":2017,"month":12,"date":6,"hours":14,"minutes":14}], "nice": false, "padding": 0}},
   "y": {"datum": -305, "type": "quantitative", "scale": {"domain": [-317, 389], "nice": false, "zero": false}}}},
{"data": {"values": [{"name": "watermark"}]},
 "mark": {"type": "text", "text": "]", "font": "Open Sans", "fontWeight": 300, "fontSize": 32, "color": "#ffffff", "align": "left", "baseline": "alphabetic", "clip": false},
 "encoding": {
   "x": {"datum": {"year":2017,"month":12,"date":2,"hours":13,"minutes":0}, "type": "temporal", "scale": {"domain": [{"year":2017,"month":11,"date":28,"hours":18,"minutes":35},{"year":2017,"month":12,"date":6,"hours":14,"minutes":14}], "nice": false, "padding": 0}},
   "y": {"datum": -305, "type": "quantitative", "scale": {"domain": [-317, 389], "nice": false, "zero": false}}}}
]
}
],
"resolve": {"scale": {"x": "shared", "y": "independent"}},
"config": {
  "view": {"stroke": "#000000", "strokeWidth": 1},
  "font": "Liberation Sans",
  "scale": {"continuousPadding": 0},
  "axis": {"labelFont": "Liberation Sans", "labelFontSize": 8, "labelColor": "#000000", "domainColor": "#000000", "tickColor": "#000000", "zindex": 0, "labelOverlap": false},
  "title": {"font": "Liberation Sans", "fontSize": 8, "fontWeight": "normal", "color": "#000000", "anchor": "start", "frame": "group"},
  "text": {"font": "Liberation Sans"}
}
}
